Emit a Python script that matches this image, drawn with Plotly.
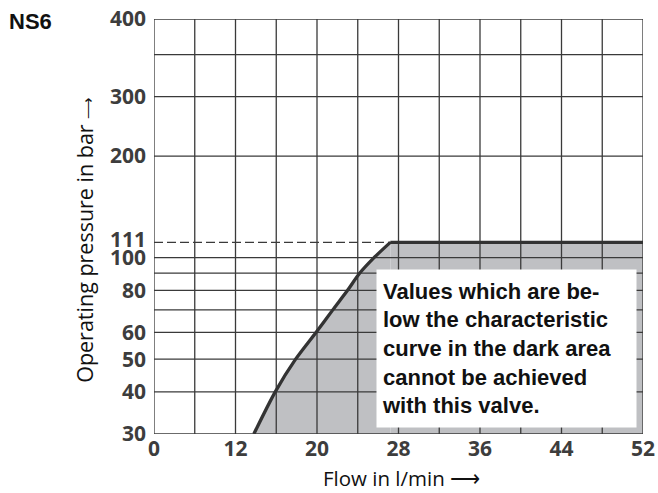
import math
import plotly.graph_objects as go

# characteristic curve
flow = [13.8, 15.9, 17.9, 19.9, 21.55, 23.0, 24.2, 25.6, 27.2, 52]
pressure = [30, 40, 50, 60, 70, 80, 90, 100, 111, 111]

# axis ticks (the chart's axes are drawn broken: "0" sits at the left edge)
flow_tick_vals = [4, 12, 20, 28, 36, 44, 52]
flow_tick_text = ["0", "12", "20", "28", "36", "44", "52"]
flow_grid = [4, 8, 12, 16, 20, 24, 28, 32, 36, 40, 44, 48, 52]

pressure_tick_vals = [30, 40, 50, 60, 80, 100, 200, 300, 510]
pressure_tick_text = ["30", "40", "50", "60", "80", "100", "200", "300", "400"]
pressure_grid = [30, 40, 50, 60, 70, 80, 90, 100, 200, 300, 400, 510]

limit_pressure = 111
x_min, x_max = flow_grid[0], flow_grid[-1]
y_min, y_max = pressure_grid[0], pressure_grid[-1]

GRID = "#3a3a3a"
FILL = "#bfc0c3"
CURVE = "#333333"

fig = go.Figure()

# dark area below the curve (rising part + flat part)
fig.add_trace(
    go.Scatter(x=flow[:-1], y=pressure[:-1], mode="lines", fill="tozeroy",
               fillcolor=FILL, line=dict(width=0, shape="spline", smoothing=0.8),
               hoverinfo="skip")
)
fig.add_trace(
    go.Scatter(x=flow[-2:], y=pressure[-2:], mode="lines", fill="tozeroy",
               fillcolor=FILL, line=dict(width=0), hoverinfo="skip")
)

# grid lines on top of the fill
gx, gy = [], []
for v in flow_grid:
    gx += [v, v, None]
    gy += [y_min, y_max, None]
for v in pressure_grid:
    gx += [x_min, x_max, None]
    gy += [v, v, None]
fig.add_trace(
    go.Scatter(x=gx, y=gy, mode="lines", line=dict(color=GRID, width=1.3), hoverinfo="skip")
)

# dashed limit line
fig.add_trace(
    go.Scatter(
        x=[x_min, x_max],
        y=[limit_pressure, limit_pressure],
        mode="lines",
        line=dict(color=GRID, width=1.2, dash="9px,4px"),
        hoverinfo="skip",
    )
)

# characteristic curve: rising part smooth, then flat at the limit
fig.add_trace(
    go.Scatter(x=flow[:-1], y=pressure[:-1], mode="lines",
               line=dict(color=CURVE, width=3.3, shape="spline", smoothing=0.8))
)
fig.add_trace(
    go.Scatter(x=flow[-2:], y=pressure[-2:], mode="lines",
               line=dict(color=CURVE, width=3.3))
)

tick_font = dict(family="Open Sans", size=21, color="#3d3d3d", weight="bold")

fig.update_xaxes(
    range=[x_min, x_max],
    tickvals=flow_tick_vals,
    ticktext=flow_tick_text,
    showgrid=False,
    zeroline=False,
    showline=False,
    ticks="",
    tickfont=tick_font,
    ticklabelstandoff=0,
    ticklabeloverflow="allow",
    automargin=False,
)
fig.update_yaxes(
    type="log",
    range=[math.log10(y_min), math.log10(y_max) + 1e-6],
    tickvals=pressure_tick_vals,
    ticktext=pressure_tick_text,
    showgrid=False,
    zeroline=False,
    showline=False,
    ticks="",
    tickfont=tick_font,
    ticklabelstandoff=7,
    ticklabeloverflow="allow",
    automargin=False,
)

# "111" label sits a little above its line, as in the original
fig.add_annotation(
    text=str(limit_pressure),
    xref="paper", yref="y", x=0, y=math.log10(limit_pressure),
    xanchor="right", yanchor="middle", xshift=-6, yshift=3,
    showarrow=False, font=tick_font,
)

fig.add_annotation(
    text="Values which are be-<br>low the characteristic<br>curve in the dark area<br>cannot be achieved<br>with this valve.",
    xref="paper", yref="paper", x=0.454, y=0.3976,
    xanchor="left", yanchor="top",
    align="left", width=249, height=147, borderpad=5,
    bgcolor="white", showarrow=False,
    font=dict(family="Liberation Sans", size=22, color="#111111", weight="bold"),
)
fig.add_annotation(
    text='Operating pressure in bar <span style="font-size:15px">⟶</span>',
    xref="paper", yref="paper", x=-0.141, y=0.468,
    xanchor="center", yanchor="middle",
    textangle=-90, showarrow=False,
    font=dict(family="Open Sans", size=21.5, color="#111111"),
)
fig.add_annotation(
    text="Flow in l/min ⟶",
    xref="paper", yref="paper", x=0.5065, y=-0.1065,
    xanchor="center", yanchor="middle", showarrow=False, borderpad=0,
    font=dict(family="Open Sans", size=20.5, color="#111111"),
)
fig.add_annotation(
    text="NS6",
    xref="paper", yref="paper", x=-0.3006, y=0.9928,
    xanchor="left", yanchor="middle", showarrow=False,
    font=dict(family="Liberation Sans", size=22, color="#111111", weight="bold"),
)

fig.update_layout(
    width=658,
    height=493,
    margin={"l": 154, "r": 15, "b": 59, "t": 19, "autoexpand": False},
    plot_bgcolor="white",
    paper_bgcolor="white",
    showlegend=False,
    hovermode=False,
)

# drop the page's default body margin so the figure fills the window exactly
fig.write_html(
    "out.html",
    config={"displayModeBar": False},
    post_script="document.body.style.margin='0';document.body.style.overflow='hidden';",
)
